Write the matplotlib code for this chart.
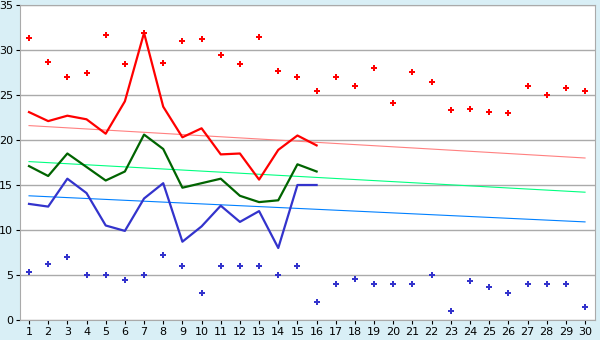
import matplotlib
matplotlib.use("Agg")
import matplotlib.pyplot as plt

days = list(range(1, 31))

max_pts = [31.3, 28.7, 27.0, 27.5, 31.7, 28.4, 31.9, 28.6, 31.0, 31.2,
           29.5, 28.5, 31.4, 27.7, 27.0, 25.5, 27.0, 26.0, 28.0, 24.1,
           27.6, 26.5, 23.3, 23.5, 23.1, 23.0, 26.0, 25.0, 25.8, 25.5]
min_pts = [5.3, 6.2, 7.0, 5.0, 5.0, 4.4, 5.0, 7.2, 6.0, 3.0,
           6.0, 6.0, 6.0, 5.0, 6.0, 2.0, 4.0, 4.6, 4.0, 4.0,
           4.0, 5.0, 1.0, 4.3, 3.7, 3.0, 4.0, 4.0, 4.0, 1.5]

line_days = list(range(1, 17))
max_line = [23.1, 22.1, 22.7, 22.3, 20.7, 24.3, 31.9, 23.7, 20.3, 21.3,
            18.4, 18.5, 15.6, 18.9, 20.5, 19.4]
avg_line = [17.1, 16.0, 18.5, 17.0, 15.5, 16.5, 20.6, 19.0, 14.7, 15.2,
            15.7, 13.8, 13.1, 13.3, 17.3, 16.5]
min_line = [12.9, 12.6, 15.7, 14.1, 10.5, 9.9, 13.5, 15.2, 8.7, 10.4,
            12.7, 10.9, 12.1, 8.0, 15.0, 15.0]

# trend lines, start and end values
trend_x = [1, 30]
trend_max = [21.6, 18.0]
trend_avg = [17.6, 14.2]
trend_min = [13.8, 10.9]

red = "#ff0000"
green = "#006400"
blue = "#3333cc"

fig = plt.figure(figsize=(6, 3.4), dpi=100)
fig.patch.set_facecolor("#d9eff6")
ax = fig.add_axes([20 / 600, 20 / 340, 575 / 600, 315 / 340])
ax.set_facecolor("white")

ax.plot(trend_x, trend_max, color="#ff8080", lw=0.8)
ax.plot(trend_x, trend_avg, color="#00ff80", lw=0.8)
ax.plot(trend_x, trend_min, color="#0080ff", lw=0.8)

ax.plot(line_days, max_line, color=red, lw=1.6)
ax.plot(line_days, avg_line, color=green, lw=1.6)
ax.plot(line_days, min_line, color=blue, lw=1.6)

ax.plot(days, max_pts, "P", color=red, ms=4, mew=0, ls="none")
ax.plot(days, min_pts, "P", color=blue, ms=4, mew=0, ls="none")

ax.set_xlim(0.53, 30.52)
ax.set_ylim(0, 35)
ax.set_xticks(days)
ax.set_yticks(range(0, 36, 5))
ax.yaxis.grid(True, color="#aaaaaa", lw=1)
ax.set_axisbelow(True)
for s in ax.spines.values():
    s.set_color("#aaaaaa")
ax.tick_params(axis="both", colors="black", labelsize=8, length=3, pad=2)

fig.savefig("out.png", dpi=100, facecolor=fig.get_facecolor())
